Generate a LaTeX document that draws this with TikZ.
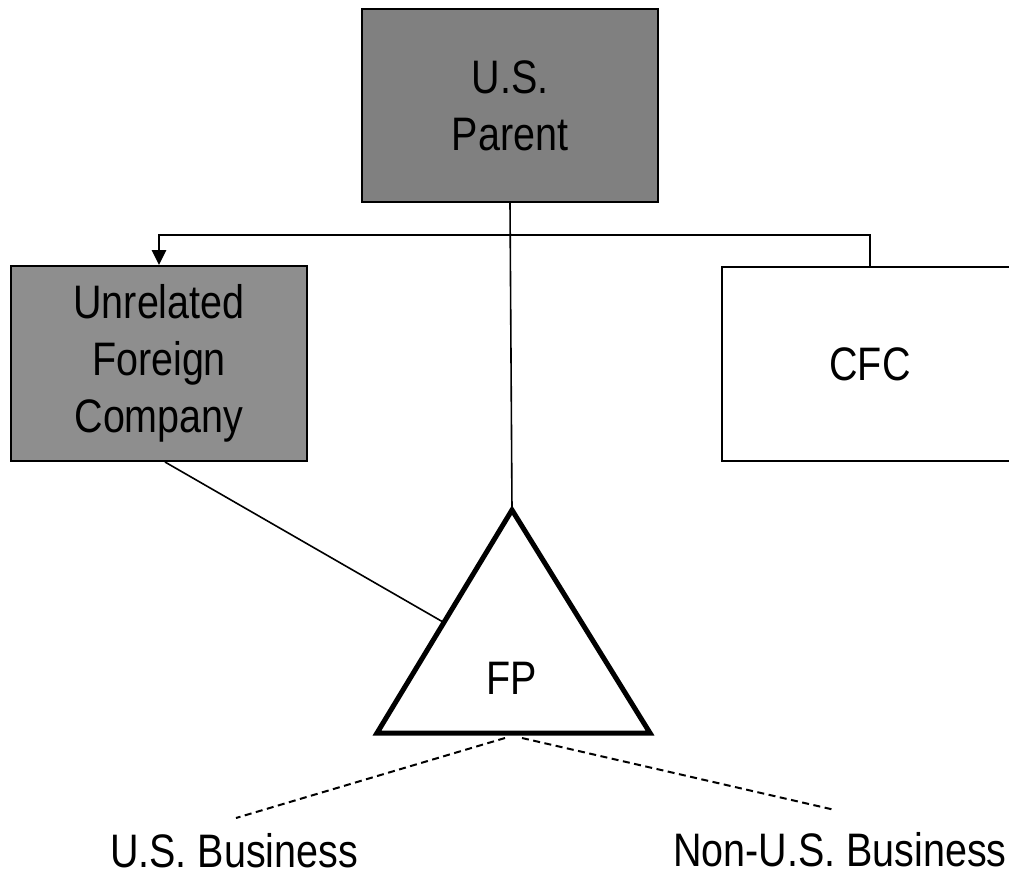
\documentclass[tikz,border=0pt]{standalone}
\usepackage{fontspec}
\setmainfont{Liberation Sans}[FakeStretch=0.84]
\usetikzlibrary{arrows.meta,calc}
\definecolor{parentgray}{RGB}{128,128,128}
\definecolor{unrelgray}{RGB}{142,142,142}
\begin{document}
\begin{tikzpicture}[x=1pt,y=-1pt,
  font=\fontsize{47}{57}\selectfont,
  box/.style={draw=black, line width=2pt, align=center, inner sep=0pt, minimum width=296pt},
  thinline/.style={line width=1.6pt},
  conn/.style={line width=2.6pt},
  dashline/.style={line width=2pt, dash pattern=on 7pt off 4.5pt},
  tri/.style={line width=5pt, line join=miter},
  label/.style={inner sep=0pt, anchor=base}]
\useasboundingbox (0,0) rectangle (1009,876);
\clip (0,0) rectangle (1009,876);
\node[box, fill=parentgray, minimum height=193pt] (parent) at (510,105.5) {U.S.\\Parent};
\node[box, fill=unrelgray, minimum height=195pt] (unrel) at (159,363.5) {Unrelated\\Foreign\\Company};
\node[box, fill=white, minimum height=194pt] (cfc) at (870,364) {CFC};
\coordinate (apex) at (512,510);
\coordinate (bl) at (377,733);
\coordinate (br) at (650,733);
\draw[tri] (apex) -- (bl) -- (br) -- cycle;
\node[label] (fp) at (512,694) {FP};
\coordinate (hit) at (443,622);
\coordinate (dl) at (505,738);
\coordinate (dr) at (522,738);
\coordinate (usend) at (236,818);
\coordinate (nonend) at (835,810);
\draw[thinline] (parent.south) -- (apex);
\draw[conn, -{Triangle[length=15pt,width=14pt]}] (cfc.north) -- ++(0,-31) -| (unrel.north);
\draw[thinline] ($(unrel.south)+(6,0)$) -- (hit);
\draw[dashline] (dl) -- (usend);
\draw[dashline] (dr) -- (nonend);
\node[label] (us) at (234,867) {U.S. Business};
\node[label] (nonus) at (840,866) {Non-U.S. Business};
\end{tikzpicture}
\end{document}
